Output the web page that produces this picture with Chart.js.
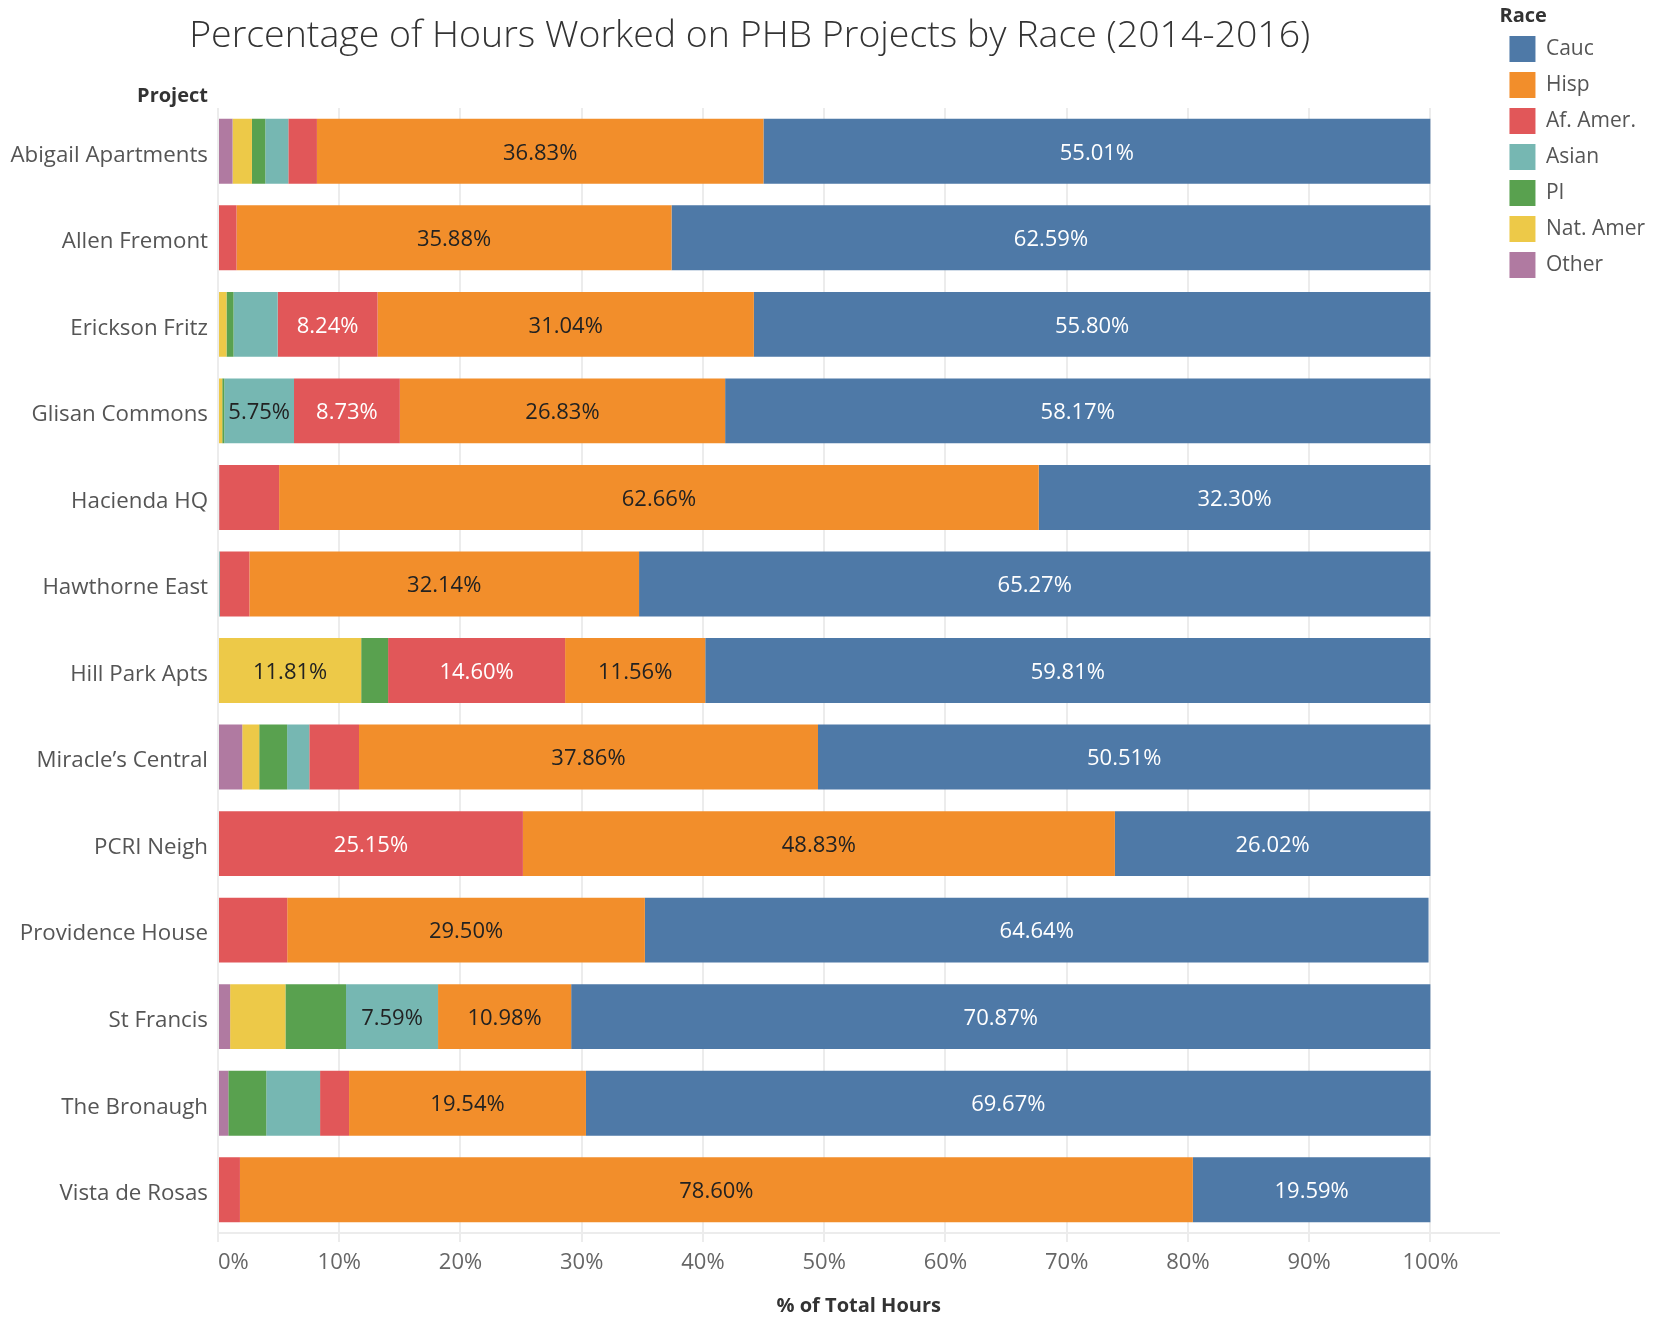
<!DOCTYPE html>
<html>
<head>
<meta charset="utf-8">
<script src="https://cdn.jsdelivr.net/npm/chart.js@4.4.1/dist/chart.umd.min.js"></script>
<style>
	html, body { margin: 0; padding: 0; background: #fff; }
</style>
</head>
<body>
<canvas id="grafica" width="1659" height="1318"></canvas>
<script>
// --- DATOS --- //
const proyectos = [
	'Abigail Apartments',
	'Allen Fremont',
	'Erickson Fritz',
	'Glisan Commons',
	'Hacienda HQ',
	'Hawthorne East',
	'Hill Park Apts',
	'Miracle\u2019s Central',
	'PCRI Neigh',
	'Providence House',
	'St Francis',
	'The Bronaugh',
	'Vista de Rosas',
];

const cauc = [55.01, 62.59, 55.8, 58.17, 32.3, 65.27, 59.81, 50.51, 26.02, 64.64, 70.87, 69.67, 19.59];
const hisp = [36.83, 35.88, 31.04, 26.83, 62.66, 32.14, 11.56, 37.86, 48.83, 29.5, 10.98, 19.54, 78.6];
const afAmer = [2.36, 1.53, 8.24, 8.73, 4.94, 2.44, 14.6, 4.1, 25.15, 5.71, 0, 2.39, 1.81];
const asian = [1.9, 0, 3.64, 5.75, 0, 0.15, 0, 1.83, 0, 0, 7.59, 4.44, 0];
const pi = [1.1, 0, 0.58, 0.17, 0, 0, 2.22, 2.3, 0, 0, 5.0, 3.13, 0];
const natAmer = [1.6, 0, 0.7, 0.35, 0, 0, 11.81, 1.4, 0, 0, 4.56, 0, 0];
const other = [1.2, 0, 0, 0, 0.1, 0, 0, 2.0, 0, 0, 1.0, 0.85, 0];

const ticksX = [0, 10, 20, 30, 40, 50, 60, 70, 80, 90, 100];
const maxX = 105.7;

// orden de apilado (izquierda a derecha)
const series = [
	{ nombre: 'Other', valores: other, color: '#b07aa1', texto: '#222' },
	{ nombre: 'Nat. Amer', valores: natAmer, color: '#edc948', texto: '#222' },
	{ nombre: 'PI', valores: pi, color: '#59a14f', texto: '#222' },
	{ nombre: 'Asian', valores: asian, color: '#76b7b2', texto: '#222' },
	{ nombre: 'Af. Amer.', valores: afAmer, color: '#e15759', texto: '#fff' },
	{ nombre: 'Hisp', valores: hisp, color: '#f28e2b', texto: '#222' },
	{ nombre: 'Cauc', valores: cauc, color: '#4e79a7', texto: '#fff' },
];

Chart.defaults.font.family = "'Open Sans', sans-serif";

// etiquetas dentro de las barras (solo si caben)
const etiquetas = {
	id: 'etiquetas',
	afterDatasetsDraw(chart) {
		const ctx = chart.ctx;
		ctx.save();
		ctx.font = "22px 'Open Sans', sans-serif";
		ctx.textAlign = 'center';
		ctx.textBaseline = 'middle';
		chart.data.datasets.forEach((ds, i) => {
			chart.getDatasetMeta(i).data.forEach((bar, j) => {
				const v = ds.data[j];
				if (v < 5.74) return;
				ctx.fillStyle = series[i].texto;
				ctx.fillText(v.toFixed(2) + '%', (bar.x + bar.base) / 2, bar.y + 2);
			});
		});
		ctx.restore();
	},
};

// titulo centrado sobre la hoja (sin la leyenda), "Project" junto a las categorias
const acomodo = {
	id: 'acomodo',
	afterLayout(chart) {
		chart.boxes.forEach((box) => {
			if (!box.options || box === chart.legend) return;
			if (box === chart.titleBlock) {
				box.left = 0;
				box.right = chart.legend.left;
			} else if (box.options.text === 'Project') {
				box.left = 0;
				box.right = chart.chartArea.left - 10;
			}
		});
	},
};

const colorRejilla = (c) => (c.tick && c.tick.value > 100 ? 'rgba(0,0,0,0)' : '#ececec');

const grafica = document.getElementById('grafica');

new Chart(grafica, {
	type: 'bar',
	data: {
		labels: proyectos,
		datasets: series.map((s) => ({
			label: s.nombre,
			data: s.valores,
			backgroundColor: s.color,
			borderWidth: 0,
			categoryPercentage: 1,
			barPercentage: 0.75,
		})),
	},
	options: {
		indexAxis: 'y',
		responsive: false,
		animation: false,
		devicePixelRatio: 1,
		layout: {
			padding: { top: 0, right: 4, bottom: 0, left: 0 },
		},
		scales: {
			x: {
				stacked: true,
				min: 0,
				max: maxX,
				afterBuildTicks: (scale) => {
					scale.ticks = ticksX.map((v) => ({ value: v })).concat([{ value: maxX }]);
				},
				afterFit: (scale) => {
					scale.height = 85;
				},
				ticks: {
					callback: (v) => (v > 100 ? '' : v + '%'),
					align: 'inner',
					color: '#666',
					font: { size: 22 },
					padding: 8,
				},
				grid: {
					color: colorRejilla,
					lineWidth: 2,
					tickLength: 9,
				},
				border: { color: '#ececec', width: 2 },
				title: {
					display: true,
					text: '% of Total Hours',
					color: '#333',
					font: { size: 20, weight: 'bold' },
					padding: { top: 0, bottom: 0 },
				},
			},
			y: {
				stacked: true,
				afterFit: (scale) => {
					scale.width = 218;
				},
				ticks: {
					color: '#555',
					font: { size: 22.3 },
					padding: 10,
					labelOffset: 4,
				},
				grid: { display: false, drawTicks: false },
				border: { display: false },
			},
		},
		plugins: {
			title: {
				display: true,
				text: 'Percentage of Hours Worked on PHB Projects by Race (2014-2016)',
				color: '#333',
				font: { size: 37.5, weight: '300' },
				padding: { top: 13.5, bottom: 0 },
			},
			subtitle: {
				display: true,
				text: 'Project',
				align: 'end',
				color: '#333',
				font: { size: 20, weight: 'bold' },
				padding: { top: 25.5, bottom: 0 },
			},
			legend: {
				position: 'right',
				align: 'start',
				reverse: true,
				title: {
					display: true,
					text: 'Race',
					position: 'start',
					color: '#333',
					font: { size: 20, weight: 'bold', lineHeight: 1 },
					padding: { top: 6, bottom: 0 },
				},
				labels: {
					boxWidth: 26,
					boxHeight: 26,
					padding: 10,
					color: '#555',
					font: { size: 21 },
				},
			},
			tooltip: { enabled: false },
		},
	},
	plugins: [etiquetas, acomodo],
});
</script>
</body>
</html>
